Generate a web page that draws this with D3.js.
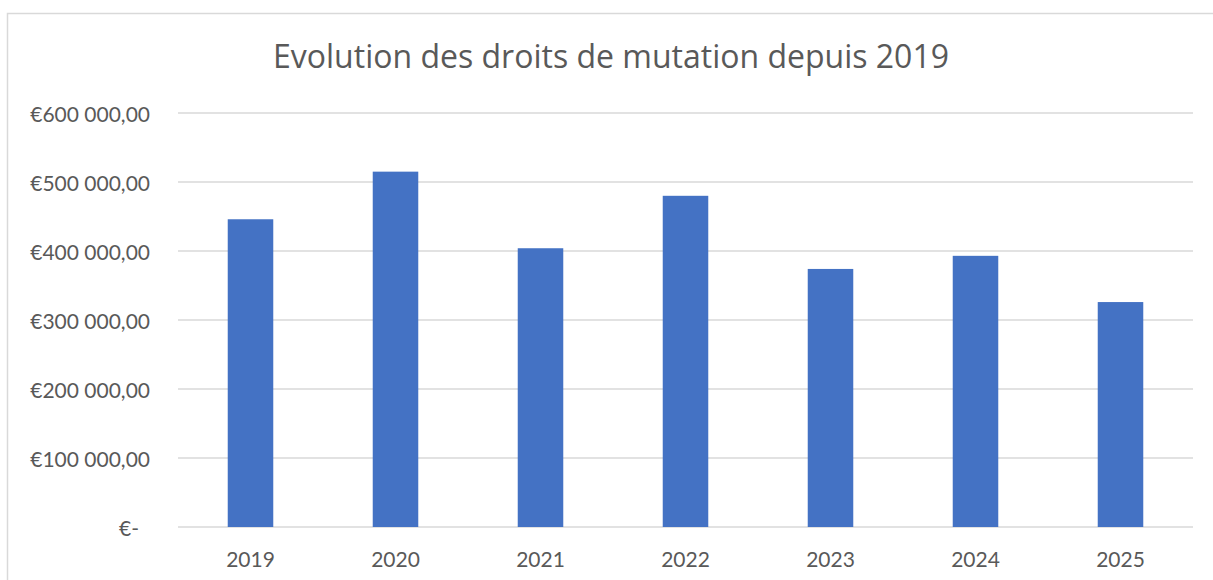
<!DOCTYPE html>
<html>
<head>
<meta charset="utf-8">
<script src="https://cdn.jsdelivr.net/npm/d3@7"></script>
<style>
  body { margin: 0; background: #fff; }
  svg { display: block; font-family: Lato, "Open Sans", sans-serif; font-variant-ligatures: none; }
</style>
</head>
<body>
<svg id="chart" width="1213" height="580"></svg>
<script>
const years = ['2019', '2020', '2021', '2022', '2023', '2024', '2025'];
const droits = [446000, 515000, 404000, 480000, 374000, 393000, 326000];
const yTicks = [0, 100000, 200000, 300000, 400000, 500000, 600000];
const title = 'Evolution des droits de mutation depuis 2019';

const svg = d3.select('#chart');
const textColor = '#595959';
const gridColor = '#d9d9d9';

// chart frame (cropped at the right and bottom in the original)
svg.append('path')
    .attr('d', 'M7.5,590 V13.5 H1220')
    .attr('fill', 'none')
    .attr('stroke', gridColor)
    .attr('stroke-width', 1.5);

const x = d3.scaleBand().domain(years).range([178, 1193]).paddingInner(0.686).paddingOuter(0.343);
const y = d3.scaleLinear().domain([0, 600000]).range([527, 113]);

// format like Excel accounting: €600 000,00
function euro(v) {
    if (v === 0) return '€-';
    const s = d3.format(',.2f')(v);
    return '€' + s.replace(/,/g, ' ').replace('.', ',');
}

// gridlines
svg.append('g')
    .selectAll('line')
    .data(yTicks)
    .enter()
    .append('line')
    .attr('x1', 178)
    .attr('x2', 1193)
    .attr('y1', d => y(d))
    .attr('y2', d => y(d))
    .attr('stroke', gridColor)
    .attr('stroke-width', 1.5);

// y axis labels
const yAxis = svg.append('g')
    .attr('transform', 'translate(150,0)')
    .call(d3.axisLeft(y).tickValues(yTicks).tickFormat(euro).tickSize(0).tickPadding(0));
yAxis.select('.domain').remove();
yAxis.selectAll('text')
    .attr('fill', textColor)
    .attr('font-size', 21)
    .attr('font-family', 'Lato, "Open Sans", sans-serif')
    .attr('dx', d => d === 0 ? -11 : 0)
    .attr('dy', '0.4em');

// bars
svg.append('g')
    .selectAll('rect')
    .data(droits)
    .enter()
    .append('rect')
    .attr('x', (d, i) => x(years[i]))
    .attr('width', x.bandwidth())
    .attr('y', d => y(d))
    .attr('height', d => y(0) - y(d))
    .attr('fill', '#4472c4');

// x axis labels
const xAxis = svg.append('g')
    .attr('transform', 'translate(0,527)')
    .call(d3.axisBottom(x).tickSize(0).tickPadding(0));
xAxis.select('.domain').remove();
xAxis.selectAll('text')
    .attr('fill', textColor)
    .attr('font-size', 21)
    .attr('font-family', 'Lato, "Open Sans", sans-serif')
    .attr('dy', 0)
    .attr('y', 40);

// title
svg.append('text')
    .attr('x', 611)
    .attr('y', 68)
    .attr('text-anchor', 'middle')
    .attr('fill', textColor)
    .attr('font-family', '"Open Sans", sans-serif')
    .attr('font-size', 32)
    .text(title);
</script>
</body>
</html>
